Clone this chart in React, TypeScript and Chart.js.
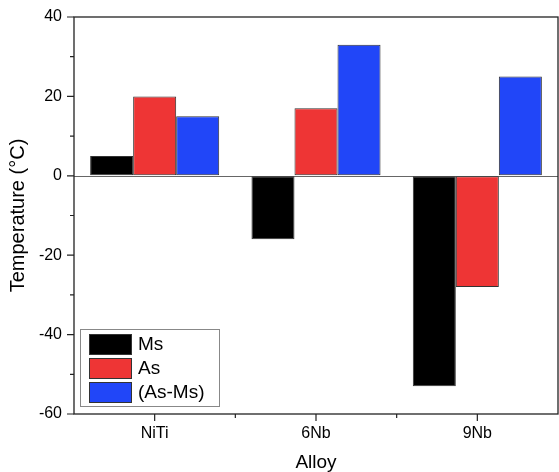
import React, { useEffect, useRef } from 'react';
import { Chart, registerables } from 'chart.js';

Chart.register(...registerables);

const categories = ['NiTi', '6Nb', '9Nb'];
const msValues = [5, -16, -53];
const asValues = [20, 17, -28];
const diffValues = [15, 33, 25];
const seriesNames = ['Ms', 'As', '(As-Ms)'];
const seriesColors = ['#000000', '#EE3535', '#2146F8'];
const yMin = -60;
const yMax = 40;
const yMajorStep = 20;
const yMinorStep = 10;
const xTitle = 'Alloy';
const yTitle = 'Temperature (\u00B0C)';

const FONT = "'Liberation Sans', Arial, Helvetica, sans-serif";

const zeroLinePlugin = {
  id: 'zeroLine',
  beforeDatasetsDraw(chart: any) {
    const { ctx, chartArea: a, scales } = chart;
    const y0 = Math.round(scales.y.getPixelForValue(0)) + 0.5;
    ctx.save();
    ctx.strokeStyle = '#666';
    ctx.lineWidth = 1;
    ctx.beginPath();
    ctx.moveTo(a.left, y0);
    ctx.lineTo(a.right, y0);
    ctx.stroke();
    ctx.restore();
  },
};

const framePlugin = {
  id: 'frameTicks',
  afterDatasetsDraw(chart: any) {
    const { ctx, chartArea: a, scales } = chart;
    const ys = scales.y;
    const xs = scales.x;
    ctx.save();
    ctx.strokeStyle = '#222';
    ctx.lineWidth = 1.3;
    ctx.strokeRect(a.left, a.top, a.right - a.left, a.bottom - a.top);
    ctx.lineWidth = 1.2;
    ctx.beginPath();
    for (let v = yMin; v <= yMax; v += yMinorStep) {
      const p = ys.getPixelForValue(v);
      const major = v % yMajorStep === 0;
      ctx.moveTo(a.left - (major ? 7 : 4), p);
      ctx.lineTo(a.left, p);
    }
    for (let i = 0; i < categories.length; i++) {
      const p = xs.getPixelForValue(i);
      ctx.moveTo(p, a.bottom);
      ctx.lineTo(p, a.bottom + 7);
      if (i > 0) {
        const b = (xs.getPixelForValue(i - 1) + p) / 2;
        ctx.moveTo(b, a.bottom);
        ctx.lineTo(b, a.bottom + 4);
      }
    }
    ctx.stroke();
    ctx.restore();
  },
};

const legendPlugin = {
  id: 'insideLegend',
  afterDraw(chart: any) {
    const { ctx, chartArea: a } = chart;
    const ds = chart.data.datasets;
    const boxL = a.left + 6;
    const boxW = 139;
    const rowH = 24;
    const boxH = 77;
    const boxT = a.bottom - 8 - boxH;
    ctx.save();
    ctx.fillStyle = '#fff';
    ctx.fillRect(boxL, boxT, boxW, boxH);
    ctx.strokeStyle = '#888';
    ctx.lineWidth = 1;
    ctx.strokeRect(boxL + 0.5, boxT + 0.5, boxW, boxH);
    ctx.font = `19px ${FONT}`;
    ctx.textBaseline = 'middle';
    ctx.textAlign = 'left';
    ds.forEach((d: any, i: number) => {
      const top = boxT + 5 + i * rowH;
      ctx.fillStyle = d.backgroundColor;
      ctx.fillRect(boxL + 9, top, 42, 20);
      ctx.strokeStyle = '#333';
      ctx.lineWidth = 1;
      ctx.strokeRect(boxL + 9.5, top + 0.5, 42, 20);
      ctx.fillStyle = '#000';
      ctx.fillText(d.label, boxL + 58, top + 10.5);
    });
    ctx.restore();
  },
};

export default function App() {
  const ref = useRef<HTMLCanvasElement | null>(null);
  useEffect(() => {
    if (!ref.current) return;
    const seriesValues = [msValues, asValues, diffValues];
    const chart = new Chart(ref.current, {
      type: 'bar',
      data: {
        labels: categories,
        datasets: seriesValues.map((vals, i) => ({
          label: seriesNames[i],
          data: vals,
          backgroundColor: seriesColors[i],
          borderColor: '#333',
          borderWidth: 1,
          borderSkipped: false,
          categoryPercentage: 0.8,
          barPercentage: 1.0,
        })),
      },
      options: {
        responsive: false,
        animation: false,
        devicePixelRatio: 1,
        layout: { padding: { top: 17, right: 1, left: 0, bottom: 0 } },
        plugins: {
          legend: { display: false },
          tooltip: { enabled: false },
        },
        scales: {
          x: {
            grid: { display: true, drawOnChartArea: false, drawTicks: true, tickLength: 10, color: 'rgba(0,0,0,0)' },
            border: { display: false },
            ticks: {
              color: '#000',
              font: { family: FONT, size: 16 },
              padding: 0,
              maxRotation: 0,
            },
            title: {
              display: true,
              text: xTitle,
              color: '#000',
              font: { family: FONT, size: 19, lineHeight: 1 },
              padding: 0,
            },
            afterFit: (s: any) => {
              s.height = 58;
            },
          },
          y: {
            min: yMin,
            max: yMax,
            grid: { display: true, drawOnChartArea: false, drawTicks: true, tickLength: 12, color: 'rgba(0,0,0,0)' },
            border: { display: false },
            ticks: {
              stepSize: yMajorStep,
              color: '#000',
              font: { family: FONT, size: 16 },
              padding: 0,
            },
            title: {
              display: true,
              text: yTitle,
              color: '#000',
              font: { family: FONT, size: 20, lineHeight: 1.2 },
              padding: { top: 6, bottom: 0 },
            },
            afterFit: (s: any) => {
              s.width = 74;
            },
          },
        },
      },
      plugins: [zeroLinePlugin, framePlugin, legendPlugin],
    });
    return () => chart.destroy();
  }, []);
  return (
    <div style={{ position: 'absolute', left: 0, top: 0, width: 559, height: 472, background: '#fff' }}>
      <canvas ref={ref} width={559} height={472} style={{ display: 'block' }} />
    </div>
  );
}
